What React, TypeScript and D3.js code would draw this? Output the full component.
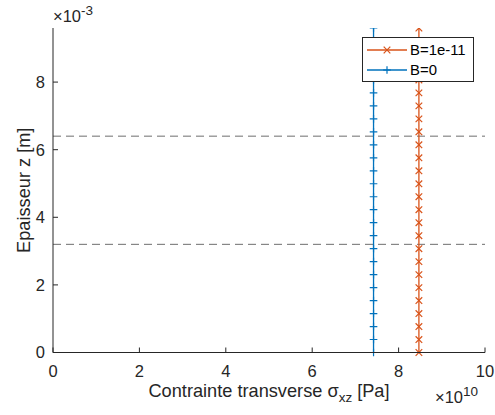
import React from "react";
import * as d3 from "d3";

// Thickness coordinate z (in mm, i.e. ×1e-3 m)
const zMm = [0, 0.384, 0.768, 1.152, 1.536, 1.92, 2.304, 2.688, 3.072, 3.456, 3.84, 4.224, 4.608,
  4.992, 5.376, 5.76, 6.144, 6.528, 6.912, 7.296, 7.68, 8.064, 8.448, 8.832, 9.216, 9.6];
// sigma_xz in units of 1e10 Pa
const sigmaB1e11 = [8.47, 8.47, 8.47, 8.47, 8.47, 8.47, 8.47, 8.47, 8.47, 8.47, 8.47, 8.47, 8.47,
  8.47, 8.47, 8.47, 8.47, 8.47, 8.47, 8.47, 8.47, 8.47, 8.47, 8.47, 8.47, 8.47];
const sigmaB0 = [7.42, 7.42, 7.42, 7.42, 7.42, 7.42, 7.42, 7.42, 7.42, 7.42, 7.42, 7.42, 7.42,
  7.42, 7.42, 7.42, 7.42, 7.42, 7.42, 7.42, 7.42, 7.42, 7.42, 7.42, 7.42, 7.42];
const interfacesMm = [3.2, 6.4];
const xTicks = [0, 2, 4, 6, 8, 10];
const yTicks = [0, 2, 4, 6, 8];
const legendLabels = ["B=1e-11", "B=0"];

const W = 495, H = 415;
const left = 53, right = 485, top = 28, bottom = 352.5;
const BLUE = "#0072BD", ORANGE = "#D95319", AX = "#262626";
const FONT = "'Liberation Sans', Arial, Helvetica, sans-serif";
const TICK_FS = 16.5, LABEL_FS = 18.2, LEG_FS = 14.9;

function XMark({ x, y, c }: { x: number; y: number; c: string }) {
  const s = 3.3;
  return (
    <g stroke={c} strokeWidth={1.2}>
      <line x1={x - s} y1={y - s} x2={x + s} y2={y + s} />
      <line x1={x - s} y1={y + s} x2={x + s} y2={y - s} />
    </g>
  );
}
function PlusMark({ x, y, c }: { x: number; y: number; c: string }) {
  const s = 3.8;
  return (
    <g stroke={c} strokeWidth={1.2}>
      <line x1={x - s} y1={y} x2={x + s} y2={y} />
      <line x1={x} y1={y - s} x2={x} y2={y + s} />
    </g>
  );
}

export default function App() {
  const xs = d3.scaleLinear().domain([0, 10]).range([left, right]);
  const ys = d3.scaleLinear().domain([0, 9.6]).range([bottom, top]);
  const lineGen = (vals: number[]) =>
    d3.line<number>().x((_, i) => xs(vals[i])).y((_, i) => ys(zMm[i]))(zMm) || "";

  const series = [
    { vals: sigmaB1e11, color: ORANGE, kind: "x" },
    { vals: sigmaB0, color: BLUE, kind: "+" },
  ];

  return (
    <svg width={W} height={H} style={{ position: "absolute", left: 0, top: 0, background: "#fff" }}
      fontFamily={FONT}>
      <defs>
        <clipPath id="plotclip">
          <rect x={left} y={top} width={right - left} height={bottom - top + 6} />
        </clipPath>
      </defs>
      <rect x={0} y={0} width={W} height={H} fill="#fff" />

      {/* interface dashed lines */}
      {interfacesMm.map((z) => (
        <line key={z} x1={left} x2={right} y1={ys(z)} y2={ys(z)} stroke="#6e6e6e"
          strokeWidth={1} strokeDasharray="8,5" />
      ))}

      <g clipPath="url(#plotclip)">
        {series.map((s, si) => (
          <g key={si}>
            <path d={lineGen(s.vals)} fill="none" stroke={s.color} strokeWidth={1.3} />
            {zMm.map((z, i) =>
              s.kind === "x" ? (
                <XMark key={i} x={xs(s.vals[i])} y={ys(z)} c={s.color} />
              ) : (
                <PlusMark key={i} x={xs(s.vals[i])} y={ys(z)} c={s.color} />
              )
            )}
          </g>
        ))}
      </g>

      {/* axes */}
      <line x1={left} x2={left} y1={top} y2={bottom} stroke={AX} strokeWidth={1} />
      <line x1={left} x2={right} y1={bottom} y2={bottom} stroke={AX} strokeWidth={1} />
      {xTicks.map((t) => (
        <g key={"x" + t}>
          <line x1={xs(t)} x2={xs(t)} y1={bottom} y2={bottom - 5} stroke={AX} />
          <text x={xs(t)} y={377} textAnchor="middle" fontSize={TICK_FS} fill={AX}>{t}</text>
        </g>
      ))}
      {yTicks.map((t) => (
        <g key={"y" + t}>
          <line x1={left} x2={left + 5} y1={ys(t)} y2={ys(t)} stroke={AX} />
          <text x={45} y={ys(t)} dy="0.36em" textAnchor="end" fontSize={TICK_FS} fill={AX}>{t}</text>
        </g>
      ))}

      {/* exponents */}
      <text x={53} y={22} fontSize={TICK_FS} fill={AX}>
        ×10<tspan dy={-7} fontSize={13.5}>-3</tspan>
      </text>
      <text x={435} y={402.5} fontSize={TICK_FS} fill={AX}>
        ×10<tspan dy={-7} fontSize={13.5}>10</tspan>
      </text>

      {/* axis labels */}
      <text x={(left + right) / 2} y={397} textAnchor="middle" fontSize={LABEL_FS} fill={AX}>
        Contrainte transverse σ<tspan dy={5} fontSize={13.5}>xz</tspan><tspan dy={-5}> [Pa]</tspan>
      </text>
      <text transform={`translate(30,${(top + bottom) / 2}) rotate(-90)`} textAnchor="middle"
        fontSize={LABEL_FS} fill={AX}>Epaisseur z [m]</text>

      {/* legend */}
      <g>
        <rect x={362.5} y={37.5} width={111} height={44} fill="#fff" stroke={AX} strokeWidth={1} />
        {series.map((s, i) => {
          const ly = 50 + i * 20;
          return (
            <g key={i}>
              <line x1={367} x2={407} y1={ly} y2={ly} stroke={s.color} strokeWidth={1.3} />
              {s.kind === "x" ? <XMark x={387} y={ly} c={s.color} /> : <PlusMark x={387} y={ly} c={s.color} />}
              <text x={410} y={ly} dy="0.36em" fontSize={LEG_FS} fill="#000">{legendLabels[i]}</text>
            </g>
          );
        })}
      </g>
    </svg>
  );
}
